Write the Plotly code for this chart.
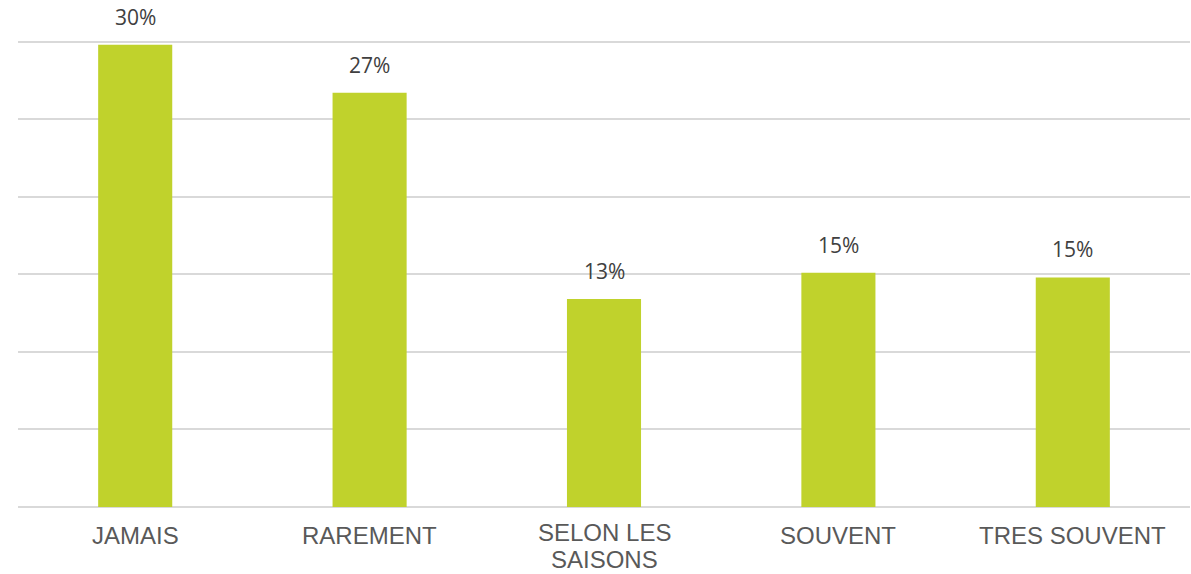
import plotly.graph_objects as go

categories = ["JAMAIS", "RAREMENT", "SELON LES SAISONS", "SOUVENT", "TRES SOUVENT"]
category_lines = [["JAMAIS"], ["RAREMENT"], ["SELON LES", "SAISONS"], ["SOUVENT"], ["TRES SOUVENT"]]
values = [29.8, 26.7, 13.4, 15.1, 14.8]
labels = ["30%", "27%", "13%", "15%", "15%"]

fig = go.Figure()
fig.add_trace(go.Bar(
    x=categories, y=values,
    marker=dict(color="#C0D22C", line=dict(width=0)),
    hoverinfo="skip",
))

for c, v, t in zip(categories, values, labels):
    fig.add_annotation(
        x=c, y=v, text=t, showarrow=False, yanchor="bottom", yshift=12,
        font=dict(family="Open Sans", size=21, color="#404040"),
    )

# category labels (drawn as annotations for tighter line spacing)
for c, lines in zip(categories, category_lines):
    start = -13 if len(lines) == 1 else -10
    for i, line in enumerate(lines):
        fig.add_annotation(
            x=c, xref="x", y=0, yref="paper", text=line, showarrow=False,
            yanchor="top", yshift=start - i * 26.7,
            font=dict(family="Liberation Sans", size=24, color="#595959"),
        )

fig.update_layout(
    width=1191, height=574,
    margin=dict(l=18, r=1, t=40, b=67, autoexpand=False),
    paper_bgcolor="white", plot_bgcolor="white",
    bargap=0.684, showlegend=False,
)
fig.update_xaxes(
    showticklabels=False,
    showline=False, showgrid=False, ticks="", automargin=False,
)
fig.update_yaxes(
    range=[0, 30.1], dtick=5, showticklabels=False,
    showgrid=True, gridcolor="#D9D9D9", gridwidth=1.5,
    zeroline=True, zerolinecolor="#D9D9D9", zerolinewidth=1.5,
    showline=False, ticks="", automargin=False,
)

fig.write_html(
    "out.html",
    config={"displayModeBar": False},
    post_script="document.body.style.margin='0';document.body.style.overflow='hidden';",
)
